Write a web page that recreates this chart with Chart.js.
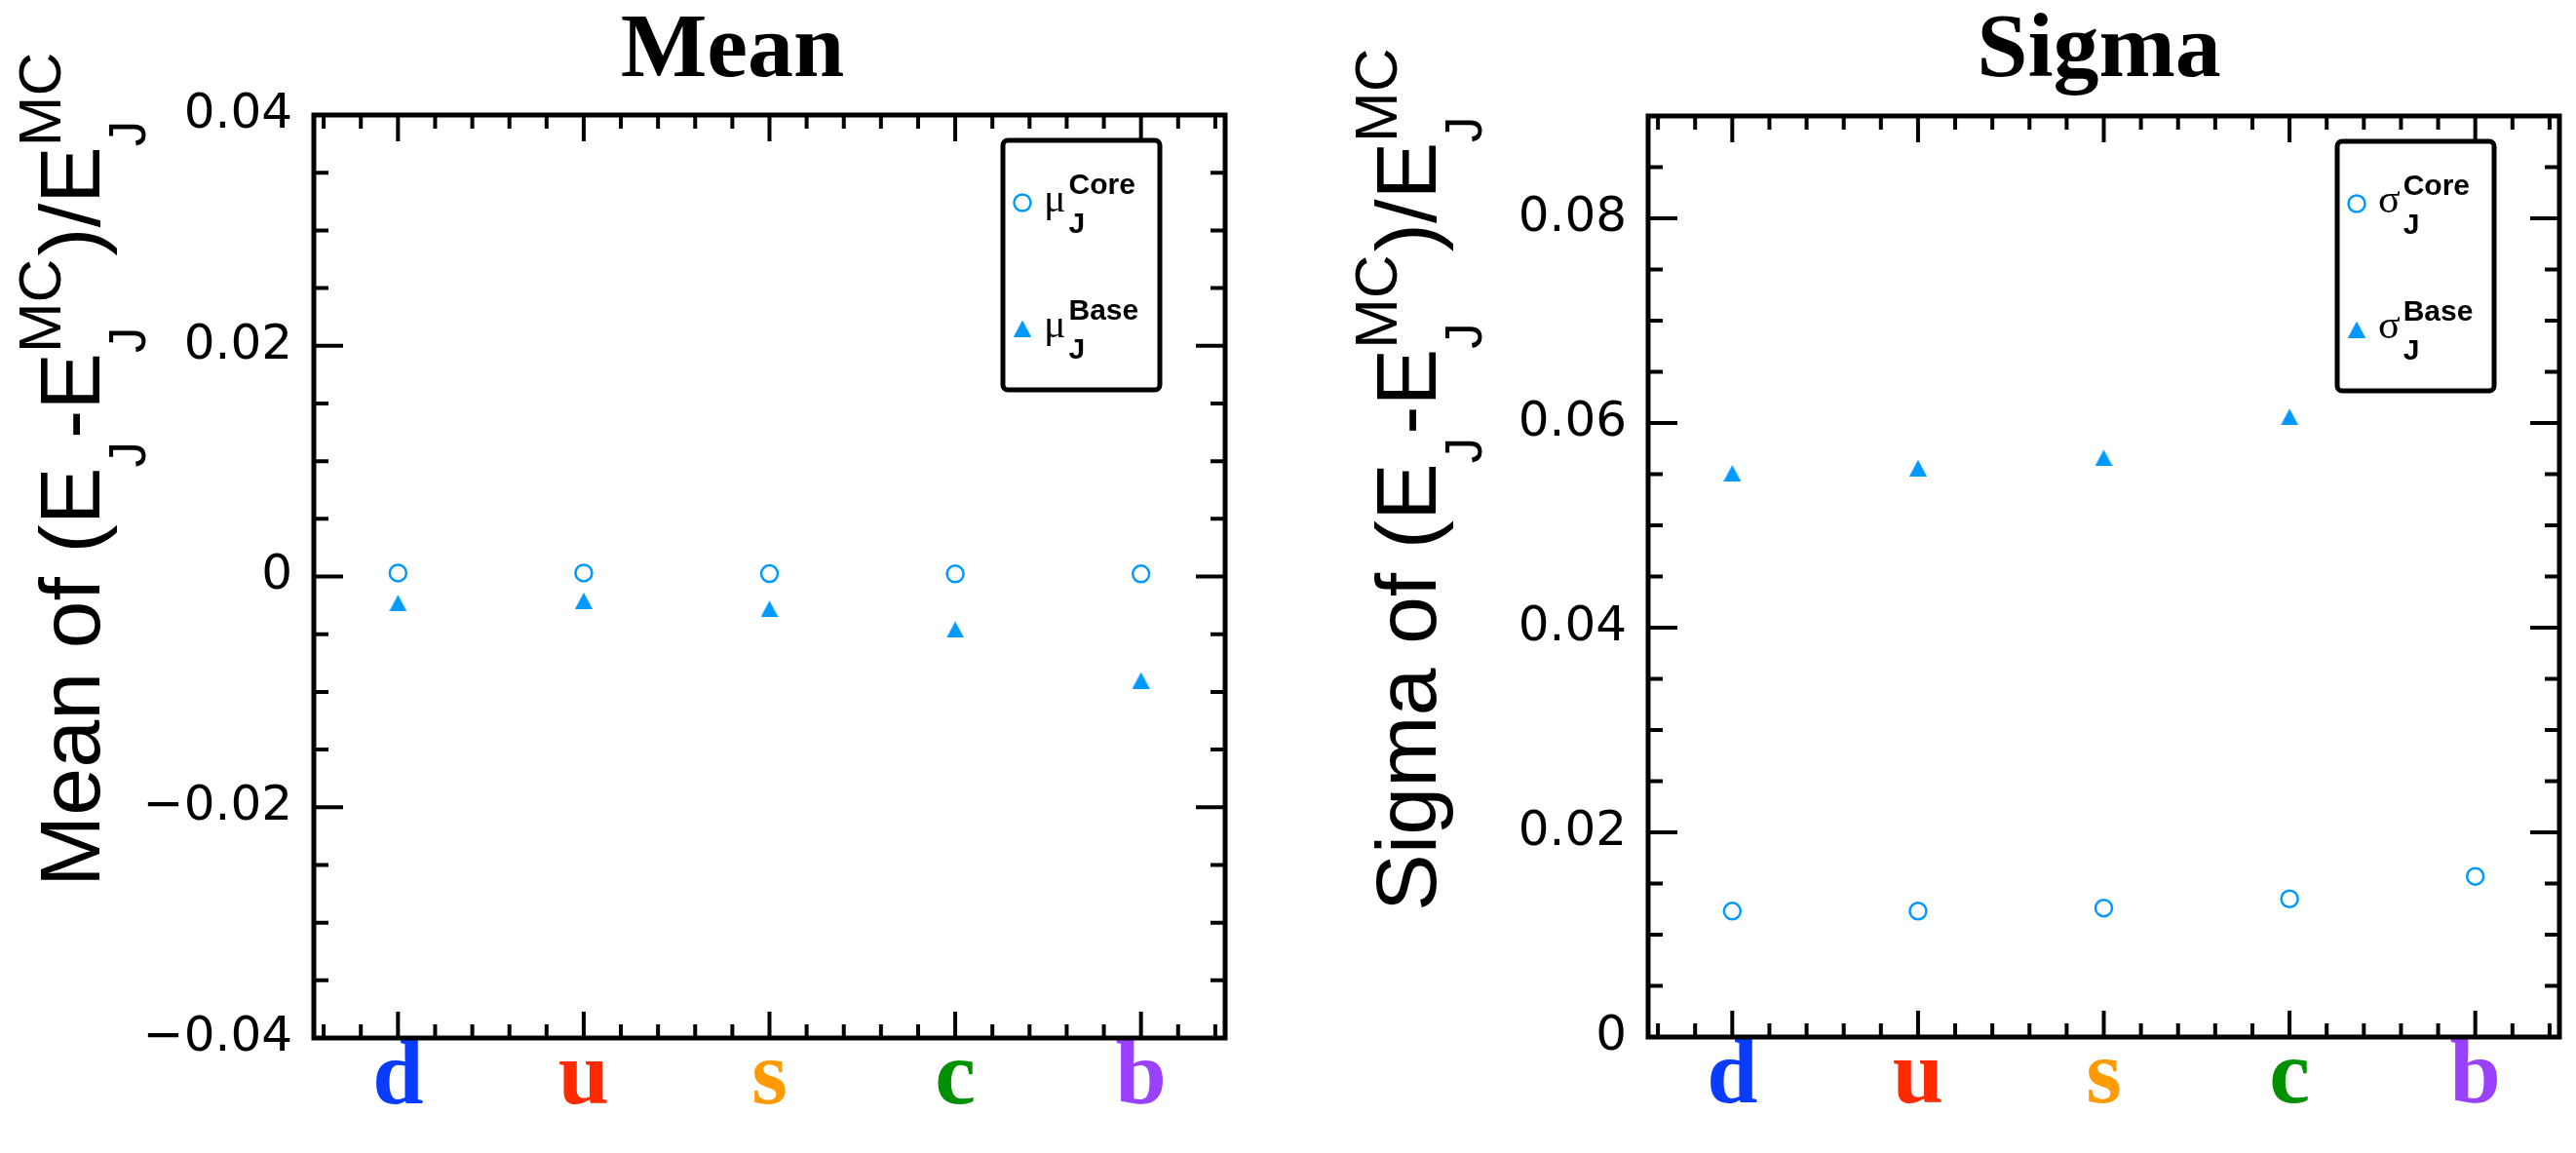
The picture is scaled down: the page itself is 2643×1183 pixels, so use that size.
<!DOCTYPE html>
<html>
<head>
<meta charset="utf-8">
<title>Mean and Sigma of jet energy response</title>
<script src="https://cdn.jsdelivr.net/npm/chart.js@4.4.0/dist/chart.umd.min.js"></script>
<style>
  html, body { margin: 0; padding: 0; background: #fff; }
  #wrap { position: relative; width: 2643px; height: 1183px; }
  .pane { position: absolute; top: 0; height: 1183px; }
  #paneMean { left: 0; width: 1321px; }
  #paneSigma { left: 1321px; width: 1322px; }
</style>
</head>
<body>
<div id="wrap">
  <div class="pane" id="paneMean"><canvas id="meanChart"></canvas></div>
  <div class="pane" id="paneSigma"><canvas id="sigmaChart"></canvas></div>
</div>
<script>
// ---- data ---------------------------------------------------------------
const flavours = ['d', 'u', 's', 'c', 'b'];
const flavourColors = ['#0a3cff', '#ff2a00', '#ff9a00', '#009000', '#9a40ff'];

const meanCore  = [0.0003, 0.0003, 0.00025, 0.00023, 0.00023];
const meanBase  = [-0.0023, -0.0021, -0.0028, -0.0046, -0.0090];
const sigmaCore = [0.0123, 0.0123, 0.0126, 0.0135, 0.0157];
const sigmaBase = [0.0551, 0.0556, 0.0566, 0.0606, null];

const meanTicks = [-0.04, -0.02, 0, 0.02, 0.04];
const meanTickLabels = ['\u22120.04', '\u22120.02', '0', '0.02', '0.04'];
const sigmaTicks = [0, 0.02, 0.04, 0.06, 0.08];
const sigmaTickLabels = ['0', '0.02', '0.04', '0.06', '0.08'];

// ---- styling --------------------------------------------------------------
const MARKER = '#0099ff';
const SANS = '"Liberation Sans", Arial, sans-serif';
const SERIF = '"Liberation Serif", "Times New Roman", serif';

// ROOT-like full triangle, centred on its bounding box
function triangleMarker(w, h, color){
  const c = document.createElement('canvas');
  c.width = w; c.height = h;
  const g = c.getContext('2d');
  g.fillStyle = color;
  g.beginPath();
  g.moveTo(0, h); g.lineTo(w, h); g.lineTo(w / 2, 0);
  g.closePath(); g.fill();
  return c;
}
const TRI = triangleMarker(18, 17, MARKER);

function points(values){
  return values.map((v, i) => ({ x: i + 1, y: v }));
}

// frame + inward ticks on all four sides
const frameTicks = {
  id: 'frameTicks',
  afterDatasetsDraw(chart){
    const { ctx, chartArea: a, scales: { x, y } } = chart;
    ctx.save();
    ctx.strokeStyle = '#000';
    ctx.lineWidth = 4;
    ctx.beginPath();
    for (let k = Math.ceil(x.min * 5); k <= Math.floor(x.max * 5); k++){
      const px = x.getPixelForValue(k / 5);
      const len = (k % 5 === 0) ? 27 : 14;
      ctx.moveTo(px, a.top); ctx.lineTo(px, a.top + len);
      ctx.moveTo(px, a.bottom); ctx.lineTo(px, a.bottom - len);
    }
    for (let k = Math.round(y.min / 0.005); k <= Math.round(y.max / 0.005); k++){
      const py = y.getPixelForValue(k * 0.005);
      const len = (Math.abs(k) % 4 === 0) ? 30 : 15;
      ctx.moveTo(a.left, py); ctx.lineTo(a.left + len, py);
      ctx.moveTo(a.right, py); ctx.lineTo(a.right - len, py);
    }
    ctx.stroke();
    ctx.lineWidth = 5;
    ctx.strokeRect(a.left, a.top, a.right - a.left, a.bottom - a.top);
    ctx.restore();
  }
};

// title, rotated y title with sub/superscripts, legend box
const decorations = {
  id: 'decorations',
  afterDraw(chart, args, o){
    const { ctx, chartArea: a } = chart;
    ctx.save();
    ctx.fillStyle = '#000';

    // main title
    ctx.font = 'bold 94px ' + SERIF;
    ctx.textAlign = 'center';
    ctx.textBaseline = 'alphabetic';
    ctx.fillText(o.title, (a.left + a.right) / 2 + o.titleShift, 78);

    // y axis title, read bottom to top, starting at yTitleStart
    ctx.textAlign = 'left';
    const size = 88;
    const main = size + 'px ' + SANS;
    const subF = Math.round(size * 0.6) + 'px ' + SANS;
    const supF = Math.round(size * 0.7) + 'px ' + SANS;
    const widths = o.yTitle.map(p => {
      if (p.t){ ctx.font = main; return ctx.measureText(p.t).width; }
      ctx.font = subF; const ws = p.sub ? ctx.measureText(p.sub).width : 0;
      ctx.font = supF; const wp = p.sup ? ctx.measureText(p.sup).width : 0;
      return Math.max(ws, wp) + 3;
    });
    ctx.save();
    ctx.translate(o.yTitleX, o.yTitleStart);
    ctx.rotate(-Math.PI / 2);
    let cx = 0;
    o.yTitle.forEach((p, i) => {
      if (p.t){ ctx.font = main; ctx.fillText(p.t, cx, 0); }
      else {
        if (p.sub){ ctx.font = subF; ctx.fillText(p.sub, cx, size * 0.53); }
        if (p.sup){ ctx.font = supF; ctx.fillText(p.sup, cx, -size * 0.45); }
      }
      cx += widths[i];
    });
    ctx.restore();

    // legend
    const bw = 161, bh = 256;
    const bx = a.right - 67 - bw, by = a.top + 26;
    ctx.lineWidth = 5;
    ctx.strokeStyle = '#000';
    ctx.beginPath();
    if (ctx.roundRect) ctx.roundRect(bx, by, bw, bh, 5); else ctx.rect(bx, by, bw, bh);
    ctx.stroke();
    const rows = [{ label: 'Core', y: by + 64, open: true }, { label: 'Base', y: by + 193, open: false }];
    rows.forEach(r => {
      const mx = bx + 20;
      if (r.open){
        ctx.beginPath();
        ctx.arc(mx, r.y, 8.5, 0, Math.PI * 2);
        ctx.strokeStyle = MARKER; ctx.lineWidth = 2.5; ctx.stroke();
      } else {
        ctx.drawImage(TRI, mx - TRI.width / 2, r.y - TRI.height / 2);
      }
      ctx.fillStyle = '#000';
      ctx.font = '42px ' + SERIF;
      const gx = bx + 42;
      ctx.fillText(o.symbol, gx, r.y + 9);
      const sx = gx + ctx.measureText(o.symbol).width + 3;
      ctx.font = 'bold 30px ' + SANS;
      ctx.fillText(r.label, sx, r.y - 9);
      ctx.fillText('J', sx, r.y + 31);
    });
    ctx.restore();
  }
};

function makeChart(canvasId, core, base, yMin, yMax, ticks, tickLabels, pad, yWidth, xHeight, deco){
  return new Chart(document.getElementById(canvasId), {
    type: 'scatter',
    data: {
      datasets: [
        { label: 'Core', data: points(core), pointStyle: 'circle', pointRadius: 8.5,
          pointBorderWidth: 2.5, borderColor: MARKER, backgroundColor: 'rgba(255,255,255,0)' },
        { label: 'Base', data: points(base), pointStyle: TRI, pointRadius: 9,
          borderColor: MARKER, backgroundColor: MARKER }
      ]
    },
    options: {
      responsive: true, maintainAspectRatio: false, animation: false,
      layout: { padding: pad },
      plugins: { legend: { display: false }, tooltip: { enabled: false }, decorations: deco },
      scales: {
        x: {
          type: 'linear', min: 0.547, max: 5.453,
          grid: { display: false, drawTicks: false }, border: { display: false },
          afterBuildTicks: s => { s.ticks = flavours.map((f, i) => ({ value: i + 1 })); },
          afterFit: s => { s.height = xHeight; },
          ticks: {
            padding: -14,
            font: { family: SERIF, weight: 'bold', size: 94 },
            color: c => flavourColors[c.index],
            callback: v => flavours[Math.round(v) - 1]
          }
        },
        y: {
          min: yMin, max: yMax,
          grid: { display: false, drawTicks: false }, border: { display: false },
          afterBuildTicks: s => { s.ticks = ticks.map(v => ({ value: v })); },
          afterFit: s => { s.width = yWidth; },
          ticks: {
            padding: 22, color: '#000',
            font: { family: '"DejaVu Sans", sans-serif', size: 50 },
            callback: (v, i) => tickLabels[i]
          }
        }
      }
    },
    plugins: [frameTicks, decorations]
  });
}

makeChart('meanChart', meanCore, meanBase, -0.04, 0.04, meanTicks, meanTickLabels,
  { top: 118, right: 64, bottom: 0, left: 0 }, 322, 118,
  { title: 'Mean', titleShift: -38, symbol: '\u03bc', yTitleX: 102, yTitleStart: 910,
    yTitle: [{ t: 'Mean of (E' }, { sub: 'J' }, { t: '-E' }, { sub: 'J', sup: 'MC' },
             { t: ')/E' }, { sub: 'J', sup: 'MC' }] });

makeChart('sigmaChart', sigmaCore, sigmaBase, 0, 0.09, sigmaTicks, sigmaTickLabels,
  { top: 119, right: 17, bottom: 0, left: 0 }, 370, 119,
  { title: 'Sigma', titleShift: -5, symbol: '\u03c3', yTitleX: 1473 - 1321, yTitleStart: 935,
    yTitle: [{ t: 'Sigma of (E' }, { sub: 'J' }, { t: '-E' }, { sub: 'J', sup: 'MC' },
             { t: ')/E' }, { sub: 'J', sup: 'MC' }] });
</script>
</body>
</html>
